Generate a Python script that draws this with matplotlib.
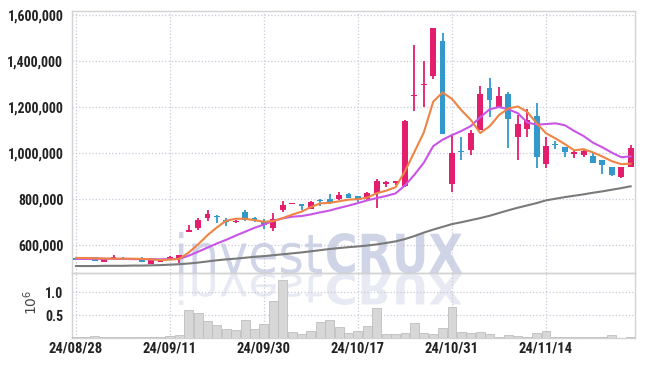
import matplotlib
matplotlib.use('Agg')
import matplotlib.pyplot as plt
import numpy as np
from matplotlib.ticker import FuncFormatter, FixedLocator
from matplotlib.textpath import TextPath
from matplotlib.font_manager import FontProperties
from matplotlib.patches import PathPatch
from matplotlib.transforms import Affine2D

# ---------------- data (prices in KRW thousands, volume in 10^6) ----------------
opens = [546, 540, 548, 529, 544, 546, 537, 541, 520, 529,
         537, 544, 659, 677, 720, 724, 710, 700, 745, 717,
         704, 677, 751, 780, 780, 759, 795, 801, 801, 823,
         813, 800, 826, 867, 869, 857, 1248, 1296, 1333, 1487,
         867, 1009, 1012, 1100, 1283, 1196, 1258, 1070, 1104, 1162,
         952, 1039, 1025, 994, 990, 988, 970, 939, 896, 939]
highs = [551, 550, 550, 544, 556, 548, 546, 550, 537, 540,
         552, 560, 690, 720, 751, 733, 717, 710, 751, 723,
         713, 739, 790, 783, 781, 790, 800, 823, 830, 825,
         815, 833, 888, 877, 881, 1143, 1470, 1398, 1542, 1521,
         1082, 1070, 1100, 1293, 1326, 1287, 1264, 1165, 1191, 1217,
         1070, 1054, 1027, 1008, 1015, 1000, 972, 940, 940, 1035]
lows = [535, 537, 532, 527, 540, 537, 535, 527, 518, 527,
        535, 522, 657, 667, 707, 696, 684, 695, 706, 703,
        670, 664, 746, 777, 751, 757, 769, 780, 797, 805,
        786, 794, 761, 855, 862, 854, 1181, 1200, 1321, 1082,
        830, 971, 990, 1100, 1157, 1196, 1022, 970, 1070, 935,
        935, 1019, 981, 978, 985, 955, 910, 900, 894, 939]
closes = [538, 547, 534, 542, 551, 538, 543, 529, 535, 537,
          548, 557, 668, 710, 736, 721, 700, 707, 710, 707,
          687, 713, 775, 782, 772, 788, 792, 786, 819, 807,
          797, 828, 880, 875, 879, 1141, 1252, 1300, 1542, 1082,
          1001, 1005, 1088, 1257, 1229, 1248, 1148, 1127, 1145, 982,
          1030, 1036, 1004, 1006, 1011, 958, 948, 904, 939, 1020]
volume = [0.01, 0.01, 0.03, 0.008, 0.008, 0.008, 0.008, 0.008, 0.008, 0.008,
          0.04, 0.07, 0.60, 0.54, 0.37, 0.28, 0.19, 0.17, 0.39, 0.19,
          0.30, 0.81, 1.27, 0.13, 0.08, 0.15, 0.35, 0.39, 0.235, 0.10,
          0.15, 0.26, 0.65, 0.08, 0.08, 0.10, 0.32, 0.10, 0.08, 0.21,
          0.67, 0.13, 0.10, 0.13, 0.08, 0.015, 0.06, 0.04, 0.015, 0.10,
          0.15, 0.005, 0.005, 0.005, 0.005, 0.005, 0.005, 0.07, 0.003, 0.02]
ma5 = [545, 545, 544, 543, 542, 542, 542, 541, 539, 536,
       538, 541, 569, 604, 644, 678, 707, 715, 715, 709,
       702, 705, 718, 733, 746, 766, 782, 784, 791, 798,
       800, 807, 826, 837, 852, 921, 1005, 1089, 1223, 1263,
       1235, 1186, 1144, 1087, 1116, 1165, 1194, 1202, 1179, 1130,
       1086, 1064, 1039, 1012, 1017, 1003, 985, 965, 952, 954]
ma10 = [541, 541, 541, 541, 541, 541, 540, 540, 540, 539,
        540, 541, 555, 572, 590, 608, 624, 642, 659, 676,
        690, 706, 717, 724, 727, 734, 743, 751, 762, 772,
        783, 795, 805, 814, 825, 860, 906, 958, 1030, 1058,
        1078, 1096, 1117, 1155, 1190, 1200, 1190, 1173, 1133, 1123,
        1126, 1129, 1121, 1096, 1074, 1045, 1025, 1002, 982, 986]
ma_long = [510, 510, 510, 511, 511, 511, 512, 512, 513, 514,
           516, 518, 521, 525, 530, 535, 539, 542, 546, 550,
           553, 557, 561, 565, 569, 574, 579, 584, 588, 592,
           595, 599, 604, 610, 617, 627, 640, 655, 668, 680,
           692, 700, 709, 718, 728, 740, 752, 763, 773, 783,
           795, 802, 809, 815, 821, 828, 834, 841, 848, 856]
tick_idx = [0, 10, 20, 30, 40, 50]
tick_labels = ['24/08/28', '24/09/11', '24/09/30', '24/10/17', '24/10/31', '24/11/14']
price_ticks = [600000, 800000, 1000000, 1200000, 1400000, 1600000]
vol_ticks = [0.5, 1.0]

UP = '#E31E6C'
DOWN = '#3399CC'
GRID = '#C9C9DA'
SPINE = '#D2D2D2'
TXT = '#222222'
FONT = ['Roboto Condensed', 'Barlow Condensed', 'Asap Condensed', 'DejaVu Sans']

W, H = 645, 367
fig = plt.figure(figsize=(W / 100, H / 100), dpi=100)
fig.patch.set_facecolor('white')

L, R = 71.7, 635.3
T1, B1, B2 = 10.7, 273.3, 337.7
ax = fig.add_axes([L / W, 1 - B1 / H, (R - L) / W, (B1 - T1) / H])
axv = fig.add_axes([L / W, 1 - B2 / H, (R - L) / W, (B2 - B1) / H], sharex=ax)
for a in (ax, axv):
    a.set_facecolor('none')

x = np.arange(len(closes))
o = np.array(opens) * 1000.0
h = np.array(highs) * 1000.0
l = np.array(lows) * 1000.0
c = np.array(closes) * 1000.0
cols = np.where(c >= o, UP, DOWN)

ax.vlines(x, l, h, colors=cols, lw=1.3, zorder=3)
body_b = np.minimum(o, c)
body_h = np.maximum(np.abs(c - o), 5000)
ax.bar(x, body_h, bottom=body_b, width=0.62, color=cols, lw=0, zorder=4)

ax.plot(x, np.array(ma_long) * 1000, color='#7A7A7A', lw=1.5, zorder=5)
ax.plot(x, np.array(ma10) * 1000, color='#C855E6', lw=1.5, zorder=5)
ax.plot(x, np.array(ma5) * 1000, color='#EE8445', lw=1.5, zorder=5)

axv.bar(x, volume, width=0.95, color='#D7D7D7', edgecolor='#BEBEBE', lw=0.6, zorder=3)

ax.set_xlim(-0.45, 59.5)
ax.set_ylim(478500, 1617700)
axv.set_ylim(0, 1.42)

ax.yaxis.set_major_locator(FixedLocator(price_ticks))
ax.yaxis.set_major_formatter(FuncFormatter(lambda v, p: f'{int(v):,}'))
axv.yaxis.set_major_locator(FixedLocator(vol_ticks))
axv.yaxis.set_major_formatter(FuncFormatter(lambda v, p: f'{v:.1f}'))
axv.set_xticks(tick_idx)
axv.set_xticklabels(tick_labels)

for a in (ax, axv):
    a.grid(True, ls=':', color=GRID, lw=0.9, zorder=0)
    a.set_axisbelow(True)
    for s in a.spines.values():
        s.set_color(SPINE)
        s.set_linewidth(1.0)
    a.tick_params(length=0, colors=TXT)
    for lab in a.get_yticklabels():
        lab.set_fontfamily(FONT)
        lab.set_fontweight('bold')
        lab.set_fontsize(10)
ax.tick_params(axis='y', pad=6)
axv.tick_params(axis='y', pad=6)
ax.tick_params(axis='x', labelbottom=False)
axv.tick_params(axis='x', pad=3)
for lab in axv.get_xticklabels():
    lab.set_fontfamily(FONT)
    lab.set_fontweight('bold')
    lab.set_fontsize(10.5)

fig.text(31 / W, 1 - 302 / H, r'$10^{6}$', rotation=90, ha='center', va='center',
         fontsize=10, color='#444444')

# ---------------- watermark ----------------
def wm_piece(txt, weight, x0, x1, base, height, flip, alpha):
    fp = FontProperties(family='DejaVu Sans', weight=weight)
    p = TextPath((0, 0), txt, size=100, prop=fp)
    e = p.get_extents()
    sx = (x1 - x0) / (e.x1 - e.x0)
    sy = height / e.y1 * (-1 if flip else 1)
    tr = (Affine2D().translate(-e.x0, 0).scale(sx, sy).translate(x0, base)
          .scale(1 / W, 1 / H) + fig.transFigure)
    fig.add_artist(PathPatch(p, transform=tr, facecolor='#C3CAE2', edgecolor='none',
                             alpha=alpha, zorder=-1))

base = H - 273
wm_piece('invest', 'normal', 179, 322, base, 41, False, 0.8)
wm_piece('CRUX', 'bold', 327, 462, base, 40, False, 0.8)
wm_piece('invest', 'normal', 179, 322, base - 1, 31, True, 0.4)
wm_piece('CRUX', 'bold', 327, 462, base - 1, 31, True, 0.4)

fig.savefig('out.png', dpi=100, facecolor='white')
